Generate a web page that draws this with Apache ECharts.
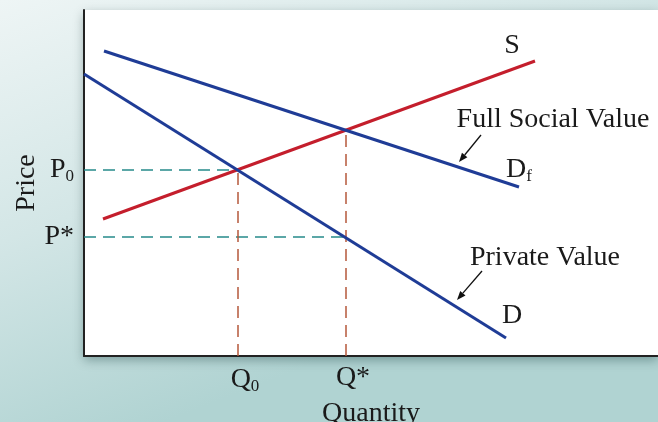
<!DOCTYPE html>
<html lang="en">
<head>
<meta charset="UTF-8">
<script src="https://cdn.jsdelivr.net/npm/echarts@6.0.0/dist/echarts.min.js"></script>
<title>Positive Externality</title>
<style>
  html, body { margin: 0; padding: 0; }
  #chart { width: 658px; height: 422px; }
</style>
</head>
<body>
<div id="chart"></div>
<script>
// curve end points (quantity, price)
const supply = [[19, 137], [451, 295]];
const demandFull = [[20, 305], [435, 169]];
const demandPrivate = [[0, 282], [422, 18]];

// equilibrium values
const q0 = 154, p0 = 186;
const qStar = 262, pStar = 119, qStarHeight = 226;

const xTicks = [q0, qStar];
const yTicks = [pStar, p0];
const xTickLabels = ['{a|Q}{s|0}', '{a|Q*}'];
const yTickLabels = ['{a|P*}', '{a|P}{s|0}'];

const serif = 'Liberation Serif';
const blue = '#1f3c96';
const red = '#c41e2c';
const teal = '#268a8a';
const brown = '#b5573a';

const rich = {
    a: { fontFamily: serif, fontSize: 28, color: '#1a1a1a' },
    s: { fontFamily: serif, fontSize: 17, color: '#1a1a1a', padding: [14, 0, 0, 0] }
};

const chart = echarts.init(document.getElementById('chart'));

function arrow(x1, y1, x2, y2) {
    // small black arrow pointing from (x1,y1) to (x2,y2)
    const dx = x2 - x1, dy = y2 - y1;
    const len = Math.sqrt(dx * dx + dy * dy);
    const ux = dx / len, uy = dy / len;
    const bx = x2 - ux * 9, by = y2 - uy * 9;
    const px = -uy * 3.5, py = ux * 3.5;
    return [
        { type: 'line', shape: { x1: x1, y1: y1, x2: bx, y2: by }, style: { stroke: '#111', lineWidth: 1.3 } },
        { type: 'polygon', shape: { points: [[x2, y2], [bx + px, by + py], [bx - px, by - py]] }, style: { fill: '#111' } }
    ];
}

function label(x, y, text) {
    return {
        type: 'text', x: x, y: y,
        style: { text: text, rich: rich, align: 'center', verticalAlign: 'middle', font: '28px ' + serif, fill: '#1a1a1a' }
    };
}

const option = {
    backgroundColor: {
        type: 'linear', x: 0, y: 0, x2: 0.25, y2: 1,
        colorStops: [
            { offset: 0, color: '#eef5f5' },
            { offset: 0.5, color: '#d3e6e6' },
            { offset: 1, color: '#b0d3d2' }
        ]
    },
    animation: false,
    grid: {
        left: 84, top: 10, right: 0, bottom: 66,
        outerBoundsMode: 'none', containLabel: false,
        show: true, backgroundColor: '#fff', borderWidth: 0,
        shadowColor: 'rgba(0,40,40,0.35)', shadowBlur: 10, shadowOffsetY: 4
    },
    xAxis: {
        type: 'value', min: 0, max: 574,
        splitLine: { show: false },
        axisLine: { show: true, lineStyle: { color: '#222', width: 2 } },
        axisTick: { show: false },
        axisLabel: {
            customValues: xTicks, margin: 8, padding: [0, 0, 0, 14],
            formatter: v => xTickLabels[xTicks.indexOf(v)], rich: rich
        },
        name: 'Quantity', nameLocation: 'middle', nameGap: 38,
        nameTextStyle: { fontFamily: serif, fontSize: 28, color: '#1a1a1a' }
    },
    yAxis: {
        type: 'value', min: 0, max: 346,
        splitLine: { show: false },
        axisLine: { show: true, lineStyle: { color: '#222', width: 2 } },
        axisTick: { show: false },
        axisLabel: {
            customValues: yTicks, margin: 10,
            formatter: v => yTickLabels[yTicks.indexOf(v)], rich: rich
        },
        name: 'Price', nameLocation: 'middle', nameGap: 43, nameRotate: 90,
        nameMoveOverlap: false,
        nameTextStyle: { fontFamily: serif, fontSize: 28, color: '#1a1a1a' }
    },
    series: [
        { type: 'line', data: [[0, p0], [q0, p0]], symbol: 'none', lineStyle: { color: teal, width: 1.5, type: [12, 7] } },
        { type: 'line', data: [[0, pStar], [qStar, pStar]], symbol: 'none', lineStyle: { color: teal, width: 1.5, type: [12, 7] } },
        { type: 'line', data: [[q0, 0], [q0, p0]], symbol: 'none', lineStyle: { color: brown, width: 1.5, type: [12, 7] } },
        { type: 'line', data: [[qStar, 0], [qStar, qStarHeight]], symbol: 'none', lineStyle: { color: brown, width: 1.5, type: [12, 7] } },
        { name: 'S', type: 'line', data: supply, symbol: 'none', lineStyle: { color: red, width: 3 } },
        { name: 'Df', type: 'line', data: demandFull, symbol: 'none', lineStyle: { color: blue, width: 3 } },
        { name: 'D', type: 'line', data: demandPrivate, symbol: 'none', lineStyle: { color: blue, width: 3 } }
    ],
    graphic: [
        label(512, 46, '{a|S}'),
        label(519, 170, '{a|D}{s|f}'),
        label(512, 316, '{a|D}'),
        label(553, 120, '{a|Full Social Value}'),
        label(545, 258, '{a|Private Value}')
    ].concat(arrow(481, 135, 459, 162), arrow(482, 271, 457, 300))
};

chart.setOption(option);
</script>
</body>
</html>
